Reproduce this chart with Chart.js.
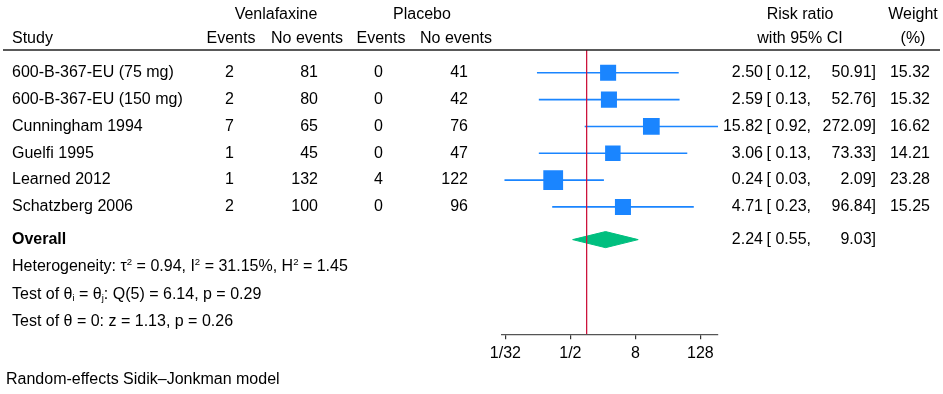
<!DOCTYPE html>
<html>
<head>
<meta charset="utf-8">
<script src="https://cdn.jsdelivr.net/npm/chart.js@4"></script>
<style>
    html, body { margin: 0; padding: 0; background: #fff; }
    #wrap { width: 943px; height: 394px; position: relative; }
</style>
</head>
<body>
<div id="wrap"><canvas id="forest"></canvas></div>
<script>
const studies = ['600-B-367-EU (75 mg)', '600-B-367-EU (150 mg)', 'Cunningham 1994', 'Guelfi 1995', 'Learned 2012', 'Schatzberg 2006'];
const venEvents = [2, 2, 7, 1, 1, 2];
const venNoEvents = [81, 80, 65, 45, 132, 100];
const plaEvents = [0, 0, 0, 0, 4, 0];
const plaNoEvents = [41, 42, 76, 47, 122, 96];
const riskRatio = [2.50, 2.59, 15.82, 3.06, 0.24, 4.71];
const ciLow = [0.12, 0.13, 0.92, 0.13, 0.03, 0.23];
const ciHigh = [50.91, 52.76, 272.09, 73.33, 2.09, 96.84];
const weights = [15.32, 15.32, 16.62, 14.21, 23.28, 15.25];

const overall = [2.24, 0.55, 9.03];   // rr, low, high
const hetero = [0.94, 31.15, 1.45];   // tau2, I2, H2
const qTest = [5, 6.14, 0.29];        // df, Q, p
const zTest = [1.13, 0.26];           // z, p

const tickValues = [1 / 32, 1 / 2, 8, 128];
const tickLabels = ['1/32', '1/2', '8', '128'];

const BLUE = 'rgb(26,133,255)';
const GREEN = 'rgb(0,191,127)';
const RED = 'rgb(204,20,60)';
const FONT = '"Liberation Sans", Arial, Helvetica, sans-serif';
const SIZE = 16;

// row positions on the hidden y axis
const overallRow = 6.22;
const textRows = [7.24, 8.27, 9.28];
const yTop = -0.85;
const yBottom = 9.75;

function drawRich(ctx, parts, x, y) {
    let cx = x;
    parts.forEach(p => {
        let dy = 0;
        if (p.sup) { ctx.font = (SIZE * 0.6) + 'px ' + FONT; dy = -5; }
        else if (p.sub) { ctx.font = (SIZE * 0.6) + 'px ' + FONT; dy = 4; }
        else ctx.font = SIZE + 'px ' + FONT;
        ctx.fillText(p.t, cx, y + dy);
        cx += ctx.measureText(p.t).width;
    });
}

const tablePlugin = {
    id: 'tablePlugin',
    afterDraw(chart) {
        const ctx = chart.ctx;
        const ys = chart.scales.y;
        ctx.save();
        ctx.fillStyle = '#000';
        ctx.textBaseline = 'middle';
        ctx.font = SIZE + 'px ' + FONT;

        // header
        ctx.textAlign = 'center';
        ctx.fillText('Venlafaxine', 276, 15);
        ctx.fillText('Placebo', 422, 15);
        ctx.fillText('Risk ratio', 800, 15);
        ctx.fillText('Weight', 913, 15);
        ctx.fillText('Events', 231, 39);
        ctx.fillText('No events', 307, 39);
        ctx.fillText('Events', 381, 39);
        ctx.fillText('No events', 456, 39);
        ctx.fillText('with 95% CI', 800, 39);
        ctx.fillText('(%)', 913, 39);
        ctx.textAlign = 'left';
        ctx.fillText('Study', 12, 39);

        ctx.strokeStyle = '#222';
        ctx.lineWidth = 1.5;
        ctx.beginPath();
        ctx.moveTo(3, ys.getPixelForValue(yTop));
        ctx.lineTo(940, ys.getPixelForValue(yTop));
        ctx.stroke();

        // study rows
        studies.forEach((name, i) => {
            const y = ys.getPixelForValue(i);
            ctx.textAlign = 'left';
            ctx.fillText(name, 12, y);
            ctx.textAlign = 'right';
            ctx.fillText(venEvents[i], 234, y);
            ctx.fillText(venNoEvents[i], 318, y);
            ctx.fillText(plaEvents[i], 383, y);
            ctx.fillText(plaNoEvents[i], 468, y);
            ctx.fillText(riskRatio[i].toFixed(2), 763, y);
            ctx.fillText('[ ' + ciLow[i].toFixed(2) + ',', 811, y);
            ctx.fillText(ciHigh[i].toFixed(2) + ']', 876, y);
            ctx.fillText(weights[i].toFixed(2), 930, y);
        });

        // overall row
        const yo = ys.getPixelForValue(overallRow);
        ctx.textAlign = 'left';
        ctx.font = 'bold ' + SIZE + 'px ' + FONT;
        ctx.fillText('Overall', 12, yo);
        ctx.font = SIZE + 'px ' + FONT;
        ctx.textAlign = 'right';
        ctx.fillText(overall[0].toFixed(2), 763, yo);
        ctx.fillText('[ ' + overall[1].toFixed(2) + ',', 811, yo);
        ctx.fillText(overall[2].toFixed(2) + ']', 876, yo);

        // heterogeneity and tests
        ctx.textAlign = 'left';
        drawRich(ctx, [
            { t: 'Heterogeneity: \u03C4' }, { t: '2', sup: true },
            { t: ' = ' + hetero[0].toFixed(2) + ', I' }, { t: '2', sup: true },
            { t: ' = ' + hetero[1].toFixed(2) + '%, H' }, { t: '2', sup: true },
            { t: ' = ' + hetero[2].toFixed(2) }
        ], 12, ys.getPixelForValue(textRows[0]));
        drawRich(ctx, [
            { t: 'Test of \u03B8' }, { t: 'i', sub: true },
            { t: ' = \u03B8' }, { t: 'j', sub: true },
            { t: ': Q(' + qTest[0] + ') = ' + qTest[1].toFixed(2) + ', p = ' + qTest[2].toFixed(2) }
        ], 12, ys.getPixelForValue(textRows[1]));
        drawRich(ctx, [
            { t: 'Test of \u03B8 = 0: z = ' + zTest[0].toFixed(2) + ', p = ' + zTest[1].toFixed(2) }
        ], 12, ys.getPixelForValue(textRows[2]));

        ctx.font = SIZE + 'px ' + FONT;
        ctx.fillText('Random-effects Sidik\u2013Jonkman model', 6, 380);
        ctx.restore();
    }
};

const ciData = [];
studies.forEach((s, i) => {
    ciData.push({ x: ciLow[i], y: i }, { x: ciHigh[i], y: i });
});

const diamondHalf = 0.3;
const diamondData = [
    { x: overall[1], y: overallRow },
    { x: overall[0], y: overallRow - diamondHalf },
    { x: overall[2], y: overallRow },
    { x: overall[0], y: overallRow + diamondHalf },
    { x: overall[1], y: overallRow }
];

new Chart(document.getElementById('forest'), {
    type: 'scatter',
    data: {
        datasets: [
            {
                type: 'line',
                data: [{ x: 1, y: yTop }, { x: 1, y: yBottom }],
                borderColor: RED,
                borderWidth: 1.3,
                pointRadius: 0,
                order: 0
            },
            {
                type: 'line',
                data: ciData,
                borderColor: BLUE,
                borderWidth: 1.6,
                pointRadius: 0,
                segment: {
                    borderColor: c => (c.p0DataIndex % 2 ? 'rgba(0,0,0,0)' : BLUE)
                },
                order: 3
            },
            {
                type: 'scatter',
                data: riskRatio.map((v, i) => ({ x: v, y: i })),
                pointStyle: 'rect',
                pointRadius: c => 2.9 * Math.sqrt(weights[c.dataIndex]),
                backgroundColor: BLUE,
                borderWidth: 0,
                order: 2
            },
            {
                type: 'line',
                data: diamondData,
                borderColor: GREEN,
                backgroundColor: GREEN,
                borderWidth: 1,
                pointRadius: 0,
                tension: 0,
                fill: 'shape',
                order: 1
            }
        ]
    },
    options: {
        responsive: true,
        maintainAspectRatio: false,
        animation: false,
        devicePixelRatio: 1,
        events: [],
        layout: { padding: { left: 502, right: 225, top: 50, bottom: 25.5 } },
        plugins: { legend: { display: false }, tooltip: { enabled: false } },
        scales: {
            x: {
                type: 'logarithmic',
                min: 0.027,
                max: Math.max(...ciHigh),
                afterBuildTicks: s => { s.ticks = tickValues.map(v => ({ value: v })); },
                ticks: {
                    autoSkip: false,
                    maxRotation: 0,
                    color: '#000',
                    padding: 5,
                    font: { family: FONT, size: SIZE },
                    callback: (v, i) => tickLabels[i]
                },
                grid: { drawOnChartArea: false, tickLength: 5, color: '#333', lineWidth: 1.2 },
                border: { color: '#555', width: 1.2 }
            },
            y: {
                type: 'linear',
                display: false,
                reverse: true,
                min: yTop,
                max: yBottom
            }
        }
    },
    plugins: [tablePlugin]
});
</script>
</body>
</html>
